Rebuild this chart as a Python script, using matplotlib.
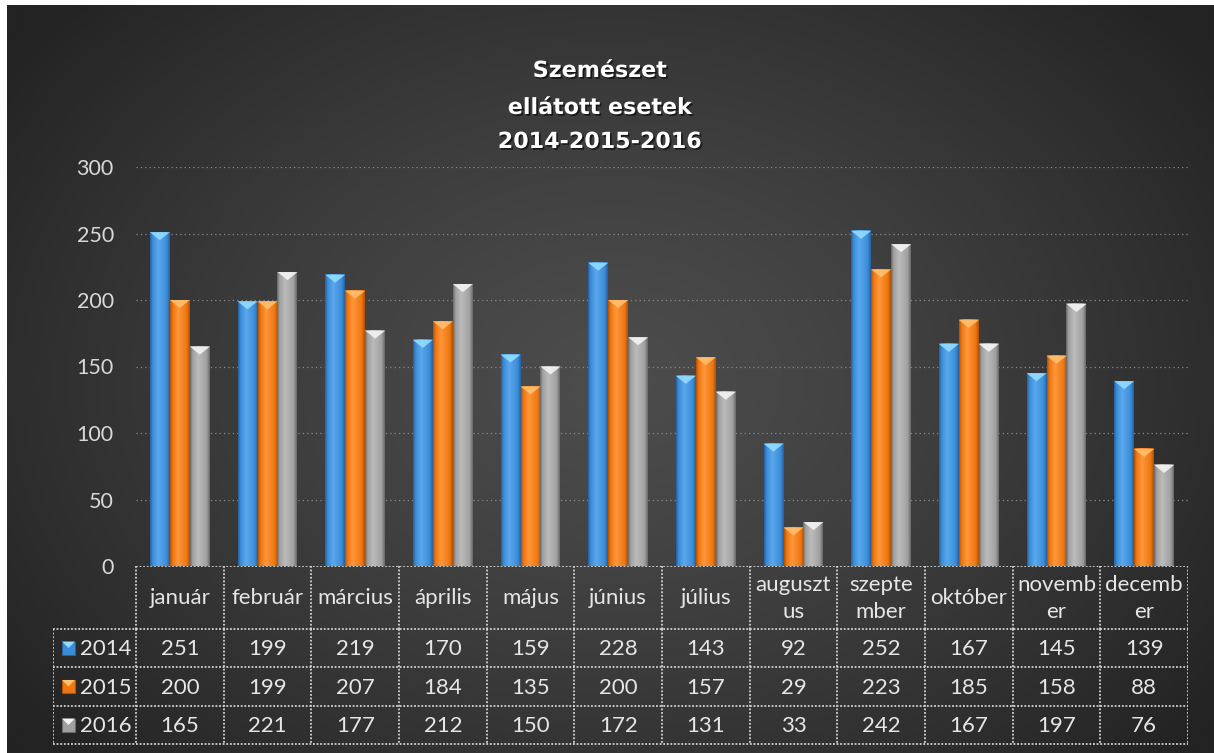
import numpy as np
import matplotlib

matplotlib.use("Agg")
import matplotlib.pyplot as plt
import matplotlib.patheffects as pe
from matplotlib.colors import LinearSegmentedColormap, to_rgb
from matplotlib.patches import Polygon, Rectangle

MONTH_LABELS = [
    "január", "február", "március", "április", "május", "június",
    "július", "auguszt\nus", "szepte\nmber", "október", "novemb\ner", "decemb\ner",
]
YEARS = ["2014", "2015", "2016"]
VALUES_2014 = [251, 199, 219, 170, 159, 228, 143, 92, 252, 167, 145, 139]
VALUES_2015 = [200, 199, 207, 184, 135, 200, 157, 29, 223, 185, 158, 88]
VALUES_2016 = [165, 221, 177, 212, 150, 172, 131, 33, 242, 167, 197, 76]
Y_TICKS = [0, 50, 100, 150, 200, 250, 300]
TITLE_LINES = ["Szemészet", "ellátott esetek", "2014-2015-2016"]

STYLES = [
    dict(dark="#28609f", mid="#3b8cd8", light="#5aa9ee", top="#93dcff"),
    dict(dark="#b45200", mid="#ee7711", light="#ff963a", top="#ffc070"),
    dict(dark="#6a6a6a", mid="#a0a0a0", light="#bcbcbc", top="#f4f4f4"),
]

FONT = "Lato"
TEXT_COLOR = "#e6e6e6"
TABLE_SIZE = 16
W, H = 1214, 753


def fx(px):
    return px / W


def fy(py):
    return 1 - py / H


def radial_background(fig):
    bg = fig.add_axes([fx(7), 0, 1 - fx(7), fy(5)])
    bg.set_axis_off()
    ny, nx = 300, 480
    yy, xx = np.mgrid[0:ny, 0:nx]
    cx, cy = nx * 0.5, ny * 0.5
    r = np.sqrt(((xx - cx) / (nx * 0.62)) ** 2 + ((yy - cy) / (ny * 0.75)) ** 2)
    r = np.clip(r, 0, 1)
    inner = np.array(to_rgb("#4c4c4c"))
    outer = np.array(to_rgb("#232323"))
    img = inner + (outer - inner) * (r[..., None] ** 1.3)
    bg.imshow(img, aspect="auto", extent=(0, 1, 0, 1), interpolation="bilinear")
    bg.set_xlim(0, 1)
    bg.set_ylim(0, 1)


def draw_bars(ax):
    series = [VALUES_2014, VALUES_2015, VALUES_2016]
    x = np.arange(len(MONTH_LABELS))
    bw = 20 / 87.67
    px_per_unit = (566 - 167) / 300
    tri_h = 8 / px_per_unit
    grad = np.linspace(0, 1, 40).reshape(1, -1)
    for k, (vals, sty) in enumerate(zip(series, STYLES)):
        cmap = LinearSegmentedColormap.from_list(
            f"bar{k}",
            [(0, sty["dark"]), (0.12, sty["mid"]), (0.4, sty["light"]),
             (0.85, sty["mid"]), (1, sty["dark"])],
        )
        bars = ax.bar(x + (k - 1) * bw, vals, width=bw, color=sty["mid"],
                      edgecolor="none", zorder=3)
        for bar in bars:
            x0, w, h = bar.get_x(), bar.get_width(), bar.get_height()
            ax.imshow(grad, cmap=cmap, extent=(x0, x0 + w, 0, h), aspect="auto",
                      zorder=3.1, interpolation="bilinear")
            ax.add_patch(Polygon([(x0, h), (x0 + w, h), (x0 + w / 2, h - tri_h)],
                                 closed=True, facecolor=sty["top"], edgecolor="none",
                                 alpha=0.9, zorder=3.2))


def draw_table(fig):
    col_w = 87.67
    left_px, right_px, top_px, bot_px = 53, 1188, 566, 745
    tax = fig.add_axes([fx(left_px), fy(bot_px), fx(right_px - left_px),
                        (bot_px - top_px) / H])
    tax.set_axis_off()
    x_left = -0.5 - (136 - left_px) / col_w
    tax.set_xlim(x_left, 11.5)
    tax.set_ylim(bot_px - top_px, 0)

    rows = [0, 63, 101, 140, 178]
    line_kw = dict(color="#d4d4d4", lw=1.3, linestyle=(0, (1, 1)), zorder=2)
    # header row
    tax.plot([-0.5, 11.5], [rows[0], rows[0]], **line_kw)
    for i in range(13):
        tax.plot([-0.5 + i, -0.5 + i], [rows[0], rows[1]], **line_kw)
    for yv in rows[1:]:
        tax.plot([x_left, 11.5], [yv, yv], **line_kw)
    for xv in [x_left] + [-0.5 + i for i in range(13)]:
        tax.plot([xv, xv], [rows[1], rows[-1]], **line_kw)

    for i, lab in enumerate(MONTH_LABELS):
        tax.text(i, (rows[0] + rows[1]) / 2 + 1, lab, ha="center", va="center",
                 color=TEXT_COLOR, fontsize=TABLE_SIZE, family=FONT, linespacing=1.45)

    series = [VALUES_2014, VALUES_2015, VALUES_2016]
    key = 13 / col_w
    key_x = x_left + (62 - left_px) / col_w
    for r, (year, vals, sty) in enumerate(zip(YEARS, series, STYLES)):
        yc = (rows[r + 1] + rows[r + 2]) / 2
        tax.add_patch(Rectangle((key_x, yc - 6.5), key, 13, facecolor=sty["mid"],
                                edgecolor=sty["dark"], lw=0.8, zorder=3))
        tax.add_patch(Polygon([(key_x, yc - 6.5), (key_x + key, yc - 6.5),
                               (key_x + key / 2, yc)], closed=True,
                              facecolor=sty["top"], edgecolor="none", zorder=3.1))
        tax.text(key_x + key + 5 / col_w, yc + 1, year, ha="left", va="center",
                 color=TEXT_COLOR, fontsize=TABLE_SIZE, family=FONT)
        for i, v in enumerate(vals):
            tax.text(i, yc + 1, str(v), ha="center", va="center",
                     color=TEXT_COLOR, fontsize=TABLE_SIZE, family=FONT)


def main():
    fig = plt.figure(figsize=(W / 100, H / 100), dpi=100)
    fig.patch.set_facecolor("white")
    radial_background(fig)

    ax = fig.add_axes([fx(136), fy(566), fx(1188 - 136), (566 - 167) / H])
    ax.patch.set_alpha(0)
    ax.set_xlim(-0.5, 11.5)
    ax.set_ylim(0, 300)
    for s in ax.spines.values():
        s.set_visible(False)
    ax.set_xticks([])
    ax.set_yticks(Y_TICKS)
    ax.set_yticklabels([str(t) for t in Y_TICKS], color="#d9d9d9", fontsize=15.5,
                       family=FONT)
    ax.tick_params(axis="y", length=0, pad=16)
    for t in Y_TICKS[1:]:
        ax.axhline(t, color="#8a8a8a", lw=0.9, linestyle=(0, (1, 2.5)), zorder=1)

    draw_bars(ax)
    ax.set_xlim(-0.5, 11.5)
    ax.set_ylim(0, 300)

    draw_table(fig)

    shadow = [pe.withSimplePatchShadow(offset=(1.2, -1.2), shadow_rgbFace="black",
                                       alpha=0.6)]
    for line, base in zip(TITLE_LINES, [77, 114, 148]):
        fig.text(fx(600), fy(base), line, ha="center", va="baseline", color="white",
                 fontsize=16, fontweight="bold", family="DejaVu Sans",
                 path_effects=shadow)

    fig.savefig("out.png", dpi=100)


if __name__ == "__main__":
    main()
